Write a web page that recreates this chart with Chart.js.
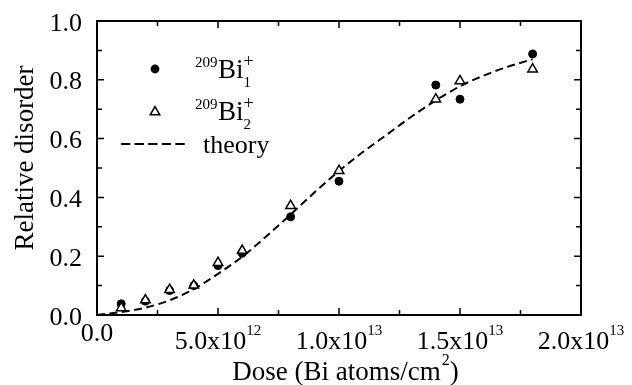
<!DOCTYPE html>
<html><head><meta charset="utf-8">
<script src="https://cdn.jsdelivr.net/npm/chart.js@4/dist/chart.umd.min.js"></script>
<style>html,body{margin:0;padding:0;background:#fff}#wrap{width:632px;height:385px;position:relative}</style>
</head><body><div id="wrap"><canvas id="c" width="632" height="385"></canvas></div>
<script>
// Data (dose in units of 1e12 Bi atoms/cm^2)
const doseE12 = [1, 2, 3, 4, 5, 6, 8, 10, 14, 15, 18];
const bi1 = [0.038, 0.047, 0.083, 0.100, 0.168, 0.210, 0.334, 0.455, 0.782, 0.734, 0.888];
const bi2 = [0.024, 0.051, 0.086, 0.101, 0.178, 0.219, 0.372, 0.491, 0.734, 0.796, 0.836];
const theoryDoseE12 = [0, 1, 2, 3, 4, 5, 6, 7, 8, 9, 10, 11, 12, 13, 14, 15, 16, 17, 18];
const theory = [0, 0.010, 0.025, 0.050, 0.088, 0.140, 0.198, 0.268, 0.342, 0.418, 0.490, 0.555, 0.615, 0.675, 0.730, 0.778, 0.815, 0.845, 0.870];
const xTickValues = [0, 5e12, 1e13, 1.5e13, 2e13];
const xMinorValues = [2.5e12, 7.5e12, 1.25e13, 1.75e13];
const xTickMantissa = ["0.0", "5.0x10", "1.0x10", "1.5x10", "2.0x10"];
const xTickExponent = ["", "12", "13", "13", "13"];
const yTickValues = [0, 0.2, 0.4, 0.6, 0.8, 1.0];
const yMinorValues = [0.1, 0.3, 0.5, 0.7, 0.9];
const yTickLabels = ["0.0", "0.2", "0.4", "0.6", "0.8", "1.0"];
const xTitleMain = "Dose (Bi atoms/cm";
const xTitleSup = "2";
const xTitleEnd = ")";
const yTitle = "Relative disorder";
const legendIso = "209";
const legendElem = "Bi";
const legendSubs = ["1", "2"];
const legendCharge = "+";
const legendTheory = "theory";

const FONT = '"Liberation Serif", "Times New Roman", serif';
const toPts = (xs, ys, k) => xs.map((x, i) => ({x: x * k, y: ys[i]}));

const frame = {
  id: 'frame',
  afterDraw(chart) {
    const ctx = chart.ctx, xs = chart.scales.x, ys = chart.scales.y, a = chart.chartArea;
    ctx.save();
    ctx.strokeStyle = '#000'; ctx.fillStyle = '#000';
    ctx.lineWidth = 2;
    ctx.strokeRect(a.left, a.top, a.right - a.left, a.bottom - a.top);
    ctx.lineWidth = 1.5;
    ctx.beginPath();
    const tx = (v, len) => { const p = xs.getPixelForValue(v);
      ctx.moveTo(p, a.bottom); ctx.lineTo(p, a.bottom - len);
      ctx.moveTo(p, a.top); ctx.lineTo(p, a.top + len); };
    const ty = (v, len) => { const p = ys.getPixelForValue(v);
      ctx.moveTo(a.left, p); ctx.lineTo(a.left + len, p);
      ctx.moveTo(a.right, p); ctx.lineTo(a.right - len, p); };
    xTickValues.forEach(v => tx(v, 7)); xMinorValues.forEach(v => tx(v, 5));
    yTickValues.forEach(v => ty(v, 7)); yMinorValues.forEach(v => ty(v, 5));
    ctx.stroke();
    // y tick labels
    ctx.font = '26px ' + FONT; ctx.textAlign = 'right'; ctx.textBaseline = 'alphabetic';
    yTickValues.forEach((v, i) => ctx.fillText(yTickLabels[i], a.left - 15, ys.getPixelForValue(v) + 9.5));
    // x tick labels
    xTickValues.forEach((v, i) => {
      const p = xs.getPixelForValue(v);
      ctx.font = '26px ' + FONT;
      const wm = ctx.measureText(xTickMantissa[i]).width;
      ctx.font = '15px ' + FONT;
      const we = xTickExponent[i] ? ctx.measureText(xTickExponent[i]).width : 0;
      const x0 = p - (wm + we) / 2;
      const base = xTickExponent[i] ? a.bottom + 34 : a.bottom + 26;
      ctx.textAlign = 'left';
      ctx.font = '26px ' + FONT; ctx.fillText(xTickMantissa[i], x0, base);
      if (xTickExponent[i]) { ctx.font = '15px ' + FONT; ctx.fillText(xTickExponent[i], x0 + wm, base - 14); }
    });
    // x title
    ctx.font = '27px ' + FONT;
    const w1 = ctx.measureText(xTitleMain).width, w3 = ctx.measureText(xTitleEnd).width;
    ctx.font = '16px ' + FONT;
    const w2 = ctx.measureText(xTitleSup).width;
    const cx = (a.left + a.right) / 2 + 6;
    let x0 = cx - (w1 + w2 + w3) / 2;
    ctx.font = '27px ' + FONT; ctx.fillText(xTitleMain, x0, 380);
    ctx.font = '16px ' + FONT; ctx.fillText(xTitleSup, x0 + w1 + 1, 365);
    ctx.font = '27px ' + FONT; ctx.fillText(xTitleEnd, x0 + w1 + w2 + 1, 380);
    // y title
    ctx.save();
    ctx.translate(33, 158);
    ctx.rotate(-Math.PI / 2);
    ctx.textAlign = 'center'; ctx.font = '27px ' + FONT;
    ctx.fillText(yTitle, 0, 0);
    ctx.restore();
    // legend
    ctx.textAlign = 'left';
    [0, 1].forEach(k => {
      const dy = k * 41.5;
      ctx.font = '15px ' + FONT; ctx.fillText(legendIso, 195, 67 + dy);
      ctx.font = '27px ' + FONT; ctx.fillText(legendElem, 218, 78 + dy);
      const wb = ctx.measureText(legendElem).width;
      ctx.font = '15px ' + FONT; ctx.fillText(legendSubs[k], 218 + wb, 87 + dy);
      ctx.font = '18px ' + FONT; ctx.fillText(legendCharge, 218 + wb, 67 + dy);
    });
    ctx.font = '26px ' + FONT; ctx.fillText(legendTheory, 203, 153);
    // legend markers
    ctx.beginPath(); ctx.arc(155, 69, 4.4, 0, Math.PI * 2); ctx.fill();
    const r = 5.5, ty0 = 112;
    ctx.beginPath();
    ctx.moveTo(155, ty0 - r);
    ctx.lineTo(155 + r * Math.sin(2 * Math.PI / 3), ty0 - r * Math.cos(2 * Math.PI / 3));
    ctx.lineTo(155 + r * Math.sin(4 * Math.PI / 3), ty0 - r * Math.cos(4 * Math.PI / 3));
    ctx.closePath();
    ctx.fillStyle = '#fff'; ctx.fill(); ctx.lineWidth = 1.5; ctx.stroke();
    ctx.beginPath(); ctx.setLineDash([9.3, 4.3]); ctx.lineWidth = 2;
    ctx.moveTo(121, 144); ctx.lineTo(185, 144); ctx.stroke();
    ctx.restore();
  }
};

new Chart(document.getElementById('c'), {
  type: 'scatter',
  data: {
    datasets: [
      { label: '209Bi2+', data: toPts(doseE12, bi2, 1e12), order: 1,
        pointStyle: 'triangle', pointRadius: 5.5, pointBackgroundColor: '#fff',
        pointBorderColor: '#000', pointBorderWidth: 1.5, showLine: false },
      { label: '209Bi1+', data: toPts(doseE12, bi1, 1e12), order: 2,
        pointStyle: 'circle', pointRadius: 4, pointBackgroundColor: '#000',
        pointBorderColor: '#000', pointBorderWidth: 1, showLine: false },
      { label: 'theory', data: toPts(theoryDoseE12, theory, 1e12), order: 3,
        showLine: true, pointRadius: 0, borderColor: '#000', borderWidth: 2,
        borderDash: [8, 4.5], cubicInterpolationMode: 'monotone', fill: false }
    ]
  },
  options: {
    responsive: false, animation: false, devicePixelRatio: 1,
    layout: { padding: { left: 97, top: 21, right: 51, bottom: 70 } },
    plugins: { legend: { display: false }, tooltip: { enabled: false } },
    scales: {
      x: { type: 'linear', min: 0, max: 2e13, display: false },
      y: { type: 'linear', min: 0, max: 1, display: false }
    }
  },
  plugins: [frame]
});
</script></body></html>
